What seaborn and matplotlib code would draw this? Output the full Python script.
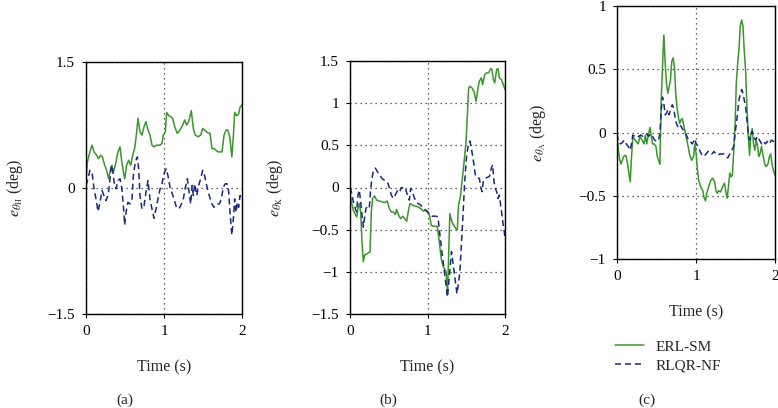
import numpy as np
import pandas as pd
import seaborn as sns
import matplotlib
matplotlib.use("Agg")
import matplotlib.pyplot as plt

# (time [s], error [deg]), one list per curve
hip_erl = [(0, 0.07), (0.017, 0.31), (0.05, 0.43), (0.077, 0.51), (0.103, 0.43), (0.137, 0.39),
           (0.16, 0.35), (0.188, 0.39), (0.21, 0.37), (0.24, 0.27), (0.265, 0.21), (0.29, 0.11),
           (0.316, 0.23), (0.333, 0.27), (0.35, 0.19), (0.376, 0.27), (0.41, 0.43), (0.436, 0.49),
           (0.453, 0.35), (0.479, 0.19), (0.496, 0.11), (0.52, 0.27), (0.547, 0.33), (0.573, 0.27),
           (0.598, 0.39), (0.624, 0.47), (0.65, 0.67), (0.667, 0.83), (0.692, 0.67), (0.718, 0.63),
           (0.744, 0.73), (0.769, 0.79), (0.795, 0.69), (0.82, 0.63), (0.846, 0.51), (0.872, 0.49),
           (0.906, 0.51), (0.95, 0.51), (0.974, 0.53), (0.991, 0.63), (1.017, 0.67), (1.034, 0.90),
           (1.06, 0.86), (1.085, 0.85), (1.11, 0.83), (1.137, 0.73), (1.17, 0.65), (1.205, 0.69),
           (1.24, 0.75), (1.265, 0.81), (1.29, 0.75), (1.316, 0.79), (1.35, 0.92), (1.376, 0.71),
           (1.40, 0.63), (1.436, 0.61), (1.47, 0.63), (1.496, 0.71), (1.52, 0.69), (1.556, 0.66),
           (1.59, 0.65), (1.615, 0.47), (1.64, 0.47), (1.667, 0.45), (1.69, 0.43), (1.718, 0.43),
           (1.744, 0.43), (1.77, 0.63), (1.795, 0.69), (1.82, 0.69), (1.846, 0.59), (1.87, 0.37),
           (1.89, 0.63), (1.906, 0.90), (1.93, 0.86), (1.957, 0.88), (1.974, 0.96), (2.0, 0.99)]
hip_rlqr = [(0, 0.03), (0.026, 0.11), (0.05, 0.21), (0.077, 0.19), (0.103, -0.01), (0.128, -0.13),
            (0.154, -0.28), (0.18, -0.17), (0.205, -0.03), (0.23, -0.09), (0.256, -0.15), (0.282, -0.09),
            (0.30, 0.03), (0.325, 0.27), (0.342, 0.21), (0.36, 0.07), (0.385, -0.01), (0.41, 0.09),
            (0.436, 0.11), (0.46, -0.01), (0.479, -0.21), (0.496, -0.44), (0.513, -0.29), (0.538, -0.17),
            (0.564, -0.19), (0.59, -0.13), (0.607, 0.15), (0.632, 0.31), (0.658, 0.37), (0.675, 0.23),
            (0.692, -0.09), (0.718, -0.25), (0.744, -0.21), (0.769, -0.05), (0.795, 0.09), (0.82, -0.13),
            (0.846, -0.25), (0.872, -0.36), (0.897, -0.25), (0.923, -0.13), (0.95, -0.01), (0.974, 0.05),
            (1.0, 0.17), (1.026, 0.23), (1.05, 0.15), (1.077, 0.01), (1.10, -0.05), (1.128, -0.13),
            (1.16, -0.23), (1.188, -0.25), (1.214, -0.21), (1.248, -0.13), (1.27, -0.01), (1.30, 0.11),
            (1.316, -0.01), (1.342, -0.19), (1.36, 0.03), (1.376, -0.09), (1.393, 0.05), (1.42, -0.09),
            (1.444, 0.03), (1.47, 0.11), (1.496, 0.21), (1.52, 0.15), (1.547, 0.03), (1.58, -0.09),
            (1.615, -0.19), (1.64, -0.23), (1.675, -0.19), (1.71, -0.19), (1.735, -0.13), (1.76, 0.01),
            (1.786, 0.05), (1.81, 0.05), (1.83, -0.05), (1.846, -0.29), (1.87, -0.56), (1.889, -0.37),
            (1.906, -0.13), (1.923, -0.29), (1.94, -0.17), (1.957, -0.23), (1.974, -0.09), (2.0, -0.13)]

knee_erl = [(0, -0.05), (0.017, -0.17), (0.043, -0.27), (0.069, -0.32), (0.086, -0.35), (0.103, -0.25),
            (0.12, -0.19), (0.138, -0.29), (0.155, -0.65), (0.172, -0.88), (0.189, -0.80), (0.215, -0.79),
            (0.24, -0.77), (0.258, -0.77), (0.275, -0.29), (0.292, -0.13), (0.318, -0.10), (0.344, -0.15),
            (0.378, -0.16), (0.413, -0.17), (0.447, -0.18), (0.48, -0.16), (0.508, -0.25), (0.533, -0.29),
            (0.559, -0.29), (0.585, -0.32), (0.60, -0.26), (0.628, -0.33), (0.654, -0.37), (0.68, -0.34),
            (0.705, -0.37), (0.731, -0.40), (0.757, -0.26), (0.774, -0.19), (0.809, -0.21), (0.843, -0.22),
            (0.877, -0.23), (0.912, -0.25), (0.946, -0.28), (0.972, -0.27), (0.998, -0.29), (1.024, -0.32),
            (1.049, -0.45), (1.084, -0.46), (1.127, -0.46), (1.153, -0.65), (1.178, -0.85), (1.204, -0.94),
            (1.23, -0.98), (1.24, -1.0), (1.257, -1.27), (1.27, -0.9), (1.288, -0.31), (1.316, -0.41),
            (1.342, -0.45), (1.368, -0.49), (1.385, -0.50), (1.40, -0.21), (1.428, -0.09), (1.445, 0.07),
            (1.462, 0.21), (1.48, 0.38), (1.497, 0.54), (1.514, 0.86), (1.531, 1.18), (1.548, 1.20),
            (1.574, 1.18), (1.60, 1.14), (1.626, 1.02), (1.652, 1.18), (1.669, 1.26), (1.695, 1.30),
            (1.712, 1.22), (1.738, 1.34), (1.763, 1.36), (1.789, 1.36), (1.815, 1.41), (1.832, 1.40),
            (1.85, 1.28), (1.867, 1.24), (1.892, 1.40), (1.91, 1.41), (1.927, 1.30), (1.953, 1.28),
            (1.978, 1.22), (2.0, 1.16)]
knee_rlqr = [(0, 0.0), (0.017, -0.05), (0.043, -0.17), (0.06, -0.23), (0.086, -0.29), (0.103, -0.09),
             (0.12, -0.03), (0.138, -0.17), (0.155, -0.33), (0.172, -0.47), (0.189, -0.35), (0.206, -0.25),
             (0.232, -0.21), (0.25, -0.23), (0.267, -0.01), (0.284, 0.11), (0.30, 0.19), (0.327, 0.23),
             (0.353, 0.19), (0.387, 0.14), (0.42, 0.10), (0.456, 0.08), (0.48, 0.07), (0.508, 0.0),
             (0.533, -0.09), (0.559, -0.13), (0.585, -0.09), (0.61, -0.04), (0.637, -0.06), (0.662, 0.0),
             (0.688, -0.01), (0.714, 0.0), (0.74, -0.09), (0.766, -0.15), (0.783, -0.01), (0.80, -0.03),
             (0.826, -0.11), (0.852, -0.17), (0.877, -0.19), (0.903, -0.20), (0.929, -0.23), (0.955, -0.25),
             (0.98, -0.27), (1.006, -0.29), (1.032, -0.32), (1.058, -0.34), (1.084, -0.34), (1.11, -0.34),
             (1.135, -0.35), (1.161, -0.57), (1.187, -0.77), (1.213, -0.96), (1.257, -1.30), (1.31, -0.76),
             (1.38, -1.26), (1.416, -1.02), (1.45, -0.47), (1.48, 0.07), (1.505, 0.38), (1.53, 0.52),
             (1.548, 0.55), (1.574, 0.42), (1.60, 0.27), (1.617, 0.15), (1.643, 0.11), (1.669, 0.11),
             (1.686, 0.01), (1.703, -0.05), (1.72, 0.07), (1.746, 0.11), (1.772, 0.12), (1.798, 0.13),
             (1.824, 0.23), (1.84, 0.27), (1.858, 0.07), (1.875, -0.01), (1.892, -0.05), (1.91, -0.13),
             (1.927, -0.09), (1.944, -0.21), (1.961, -0.33), (1.978, -0.45), (2.0, -0.59)]

ankle_erl = [(0, -0.01), (0.017, -0.14), (0.033, -0.21), (0.05, -0.25), (0.067, -0.22), (0.084, -0.19),
             (0.10, -0.18), (0.117, -0.19), (0.134, -0.25), (0.15, -0.32), (0.167, -0.39), (0.184, -0.19),
             (0.20, -0.03), (0.217, -0.05), (0.242, -0.07), (0.267, -0.09), (0.292, -0.03), (0.317, -0.06),
             (0.342, -0.09), (0.36, -0.02), (0.376, -0.09), (0.40, -0.01), (0.418, 0.04), (0.434, -0.03),
             (0.45, -0.09), (0.468, -0.09), (0.493, -0.11), (0.51, -0.19), (0.526, -0.22), (0.543, -0.25),
             (0.56, 0.26), (0.576, 0.52), (0.593, 0.77), (0.61, 0.55), (0.626, 0.39), (0.643, 0.31),
             (0.66, 0.36), (0.676, 0.41), (0.693, 0.56), (0.71, 0.59), (0.727, 0.52), (0.743, 0.31),
             (0.76, 0.20), (0.777, 0.12), (0.793, 0.07), (0.81, 0.10), (0.827, 0.11), (0.843, 0.06),
             (0.868, -0.01), (0.894, -0.09), (0.918, -0.17), (0.944, -0.22), (0.969, -0.19), (0.985, -0.09),
             (1.002, -0.17), (1.019, -0.30), (1.035, -0.38), (1.06, -0.43), (1.086, -0.46), (1.10, -0.51),
             (1.12, -0.54), (1.136, -0.48), (1.16, -0.43), (1.186, -0.38), (1.21, -0.36), (1.236, -0.39),
             (1.253, -0.46), (1.27, -0.48), (1.286, -0.46), (1.31, -0.47), (1.336, -0.43), (1.36, -0.40),
             (1.378, -0.47), (1.395, -0.52), (1.41, -0.43), (1.428, -0.32), (1.445, -0.35), (1.46, -0.34),
             (1.478, -0.14), (1.495, 0.07), (1.51, 0.39), (1.528, 0.55), (1.545, 0.67), (1.56, 0.84),
             (1.578, 0.89), (1.595, 0.84), (1.61, 0.65), (1.628, 0.49), (1.645, 0.20), (1.662, -0.03),
             (1.678, -0.18), (1.695, -0.01), (1.712, 0.03), (1.728, -0.09), (1.745, -0.14), (1.762, -0.06),
             (1.78, -0.11), (1.795, -0.19), (1.81, -0.17), (1.83, -0.11), (1.845, -0.17), (1.87, -0.25),
             (1.887, -0.27), (1.91, -0.25), (1.93, -0.19), (1.946, -0.17), (1.962, -0.25), (1.98, -0.30),
             (2.0, -0.34)]
ankle_rlqr = [(0, -0.01), (0.017, -0.07), (0.042, -0.09), (0.067, -0.08), (0.092, -0.06), (0.117, -0.09),
              (0.142, -0.11), (0.167, -0.14), (0.184, -0.09), (0.20, -0.02), (0.225, -0.03), (0.25, -0.04),
              (0.276, -0.03), (0.30, -0.02), (0.326, -0.03), (0.35, -0.02), (0.376, -0.01), (0.40, -0.03),
              (0.426, -0.01), (0.45, -0.03), (0.476, -0.06), (0.50, -0.07), (0.526, -0.06), (0.543, -0.01),
              (0.56, 0.18), (0.576, 0.28), (0.593, 0.23), (0.61, 0.14), (0.626, 0.15), (0.643, 0.18),
              (0.66, 0.14), (0.676, 0.18), (0.70, 0.22), (0.718, 0.19), (0.735, 0.12), (0.752, 0.07),
              (0.777, 0.04), (0.80, 0.06), (0.827, 0.03), (0.85, 0.01), (0.877, -0.02), (0.90, -0.05),
              (0.927, -0.07), (0.952, -0.09), (0.969, -0.07), (0.985, -0.05), (1.002, -0.09), (1.027, -0.11),
              (1.052, -0.15), (1.077, -0.18), (1.10, -0.19), (1.127, -0.17), (1.152, -0.15), (1.177, -0.15),
              (1.20, -0.17), (1.227, -0.15), (1.253, -0.17), (1.278, -0.18), (1.303, -0.17), (1.328, -0.17),
              (1.353, -0.17), (1.378, -0.19), (1.403, -0.20), (1.428, -0.17), (1.453, -0.14), (1.478, -0.11),
              (1.495, -0.01), (1.51, 0.07), (1.528, 0.16), (1.545, 0.26), (1.56, 0.30), (1.578, 0.34),
              (1.595, 0.31), (1.61, 0.26), (1.628, 0.20), (1.645, 0.10), (1.662, -0.01), (1.678, -0.06),
              (1.695, -0.02), (1.712, 0.01), (1.728, -0.03), (1.753, -0.06), (1.78, -0.03), (1.804, -0.06),
              (1.83, -0.09), (1.853, -0.07), (1.88, -0.09), (1.904, -0.07), (1.93, -0.09), (1.954, -0.06),
              (1.98, -0.07), (2.0, -0.11)]

methods = ["ERL-SM", "RLQR-NF"]
panel_labels = ["(a)", "(b)", "(c)"]
joints = ["H", "K", "A"]
yticks = [[-1.5, 0, 1.5], [-1.5, -1, -0.5, 0, 0.5, 1, 1.5], [-1, -0.5, 0, 0.5, 1]]


def to_frame(erl, rlqr):
    parts = []
    for name, pts in zip(methods, [erl, rlqr]):
        d = pd.DataFrame(pts, columns=["t", "e"])
        d["method"] = name
        parts.append(d)
    return pd.concat(parts, ignore_index=True)


frames = [to_frame(hip_erl, hip_rlqr), to_frame(knee_erl, knee_rlqr), to_frame(ankle_erl, ankle_rlqr)]

sns.set_style("ticks")
plt.rcParams["font.family"] = ["Liberation Serif", "DejaVu Serif"]
plt.rcParams["mathtext.fontset"] = "stix"
plt.rcParams["axes.unicode_minus"] = True

palette = {"ERL-SM": "#3a962c", "RLQR-NF": "#1c2878"}
dashes = {"ERL-SM": "", "RLQR-NF": (4, 2.5)}

fig = plt.figure(figsize=(7.78, 4.08), dpi=100)
W, H = 778, 408
# axes boxes in pixels: left, top, right, bottom
boxes = [(86, 62, 242, 314), (350, 61, 505, 314), (617, 6, 775, 259)]
ylab_x = [-0.455, -0.484, -0.497]
label_x = [125, 388, 647]

axes = []
for i, (l, t, r, b) in enumerate(boxes):
    ax = fig.add_axes([l / W, 1 - b / H, (r - l) / W, (b - t) / H])
    axes.append(ax)
    sns.lineplot(data=frames[i], x="t", y="e", hue="method", style="method",
                 palette=palette, dashes=dashes, estimator=None, sort=False,
                 linewidth=1.1, legend=(i == 2), ax=ax)
    ax.set_xlim(0, 2)
    lim = yticks[i]
    ax.set_ylim(lim[0], lim[-1])
    ax.set_xticks([0, 1, 2])
    ax.set_yticks(lim)
    ax.set_yticklabels([f"{v:g}".replace("-", "\u2212") for v in lim])
    ax.grid(True, color="#333333", linestyle=(0, (1, 3)), linewidth=0.9)
    for s in ax.spines.values():
        s.set_visible(True)
        s.set_color("black")
        s.set_linewidth(1.0)
    ax.tick_params(labelsize=11, length=3, width=0.8, direction="out", pad=5, colors="black")
    ax.set_xlabel("Time (s)", fontsize=11.5, va="center")
    ax.xaxis.set_label_coords(0.5, -0.212)
    ax.set_ylabel(r"$e_{\theta_{\mathrm{%s}}}$ (deg)" % joints[i], fontsize=11.5, va="center")
    ax.yaxis.set_label_coords(ylab_x[i], 0.5)
    fig.text(label_x[i] / W, 1 - 400 / H, panel_labels[i], fontsize=11, ha="center", va="center")

handles, labels = axes[2].get_legend_handles_labels()
axes[2].legend(handles, labels, loc="upper left", bbox_to_anchor=(-0.01, -0.32),
               frameon=False, fontsize=11, handlelength=1.85, handletextpad=0.8,
               borderpad=0, borderaxespad=0, labelspacing=0.35)

fig.savefig("out.png", dpi=100)
